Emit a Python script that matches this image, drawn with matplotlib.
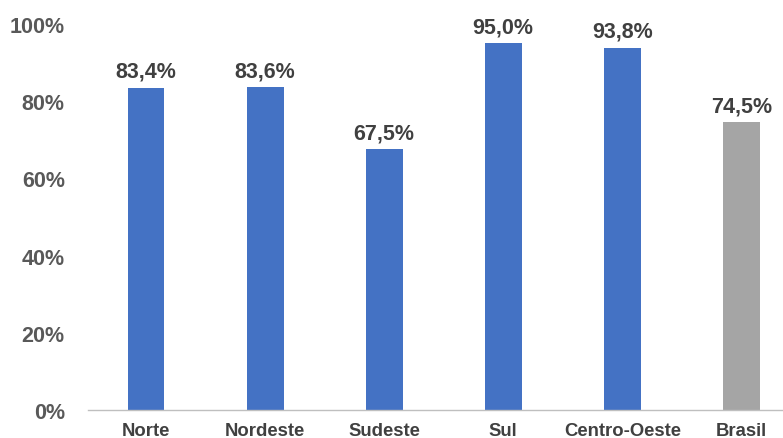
import matplotlib
matplotlib.use("Agg")
import matplotlib.pyplot as plt
from matplotlib.ticker import FuncFormatter

regions = ["Norte", "Nordeste", "Sudeste", "Sul", "Centro-Oeste", "Brasil"]
values = [83.4, 83.6, 67.5, 95.0, 93.8, 74.5]
colors = ["#4472C4", "#4472C4", "#4472C4", "#4472C4", "#4472C4", "#A5A5A5"]

plt.rcParams["font.family"] = ["Liberation Sans", "DejaVu Sans"]

fig = plt.figure(figsize=(7.83, 4.39), dpi=100)
ax = fig.add_axes([0.112, 0.064, 0.888, 0.879])

x = list(range(len(regions)))
ax.bar(x, values, width=0.31, color=colors, zorder=2)

for xi, v in zip(x, values):
    ax.text(xi, v + 2.9, f"{v:.1f}%".replace(".", ","), ha="center", va="baseline",
            fontsize=15.5, fontweight="bold", color="#404040")

ax.set_ylim(0, 100)
ax.set_xlim(-0.49, 5.35)
ax.set_yticks(range(0, 101, 20))
ax.yaxis.set_major_formatter(FuncFormatter(lambda v, p: f"{v:.0f}%"))
ax.set_xticks(x)
ax.set_xticklabels(regions)

for lab in ax.get_yticklabels():
    lab.set_fontsize(15.5)
    lab.set_fontweight("bold")
    lab.set_color("#595959")
for lab in ax.get_xticklabels():
    lab.set_fontsize(13.3)
    lab.set_fontweight("bold")
    lab.set_color("#404040")

ax.tick_params(axis="both", length=0)
ax.tick_params(axis="y", pad=16.5)
ax.tick_params(axis="x", pad=9)
for side in ["top", "right", "left"]:
    ax.spines[side].set_visible(False)
ax.spines["bottom"].set_color("#BFBFBF")
ax.spines["bottom"].set_linewidth(1.0)

fig.savefig("out.png", dpi=100)
